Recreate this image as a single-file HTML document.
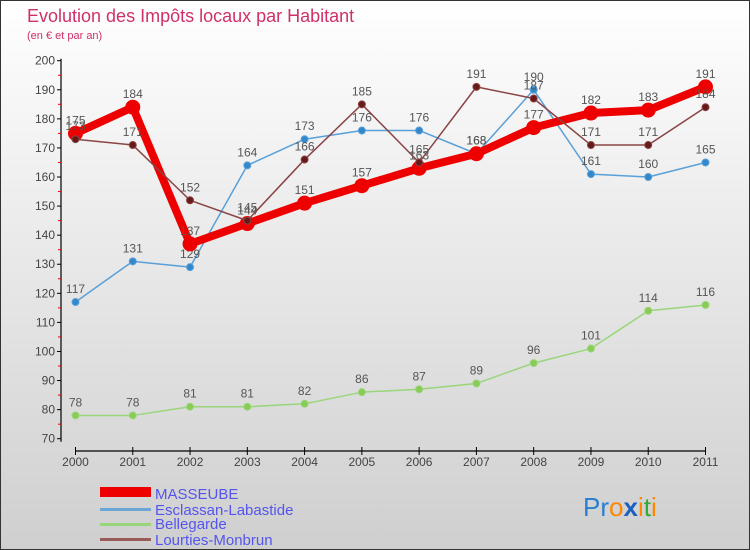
<!DOCTYPE html>
<html><head><meta charset="utf-8">
<style>
html,body{margin:0;padding:0;}
body{width:750px;height:550px;overflow:hidden;font-family:"Liberation Sans",sans-serif;}
</style></head>
<body>
<svg id="chart" width="750" height="550" xmlns="http://www.w3.org/2000/svg" style="display:block">
<defs>
<linearGradient id="bg" x1="0" y1="0" x2="0" y2="1">
<stop offset="0" stop-color="#ffffff"/><stop offset="1" stop-color="#cfcfcf"/>
</linearGradient>
</defs>
<rect x="0.5" y="0.5" width="749" height="549" fill="url(#bg)" stroke="#333" stroke-width="1"/>
<text x="27" y="22" font-size="18" fill="#d0306a">Evolution des Impôts locaux par Habitant</text>
<text x="27" y="39" font-size="11" fill="#d0306a">(en € et par an)</text>
<g id="axes"></g>
<g id="series"></g>
<g id="legend">
<rect x="100" y="487" width="51" height="10" fill="#ee0000"/>
<text x="155" y="499" font-size="15" fill="#5555ee">MASSEUBE</text>
<rect x="100" y="508" width="51" height="3" fill="#6aa6d6"/>
<text x="155" y="515" font-size="15" fill="#5555ee">Esclassan-Labastide</text>
<rect x="100" y="523" width="51" height="3" fill="#99d67a"/>
<text x="155" y="529" font-size="15" fill="#5555ee">Bellegarde</text>
<rect x="100" y="538" width="51" height="3" fill="#9b5a5a"/>
<text x="155" y="545" font-size="15" fill="#5555ee">Lourties-Monbrun</text>
</g>
<g font-size="26" font-family="Liberation Sans, sans-serif">
<text x="583" y="516"><tspan fill="#2a7fd0">Pr</tspan><tspan fill="#ff8800">o</tspan><tspan fill="#1a5fc0" font-weight="bold">x</tspan><tspan fill="#ff8800">i</tspan><tspan fill="#33aa33">t</tspan><tspan fill="#ff8800">i</tspan></text>
</g>
</svg>
<script>
const years = ['2000','2001','2002','2003','2004','2005','2006','2007','2008','2009','2010','2011'];
const masseube = [175,184,137,144,151,157,163,168,177,182,183,191];
const esclassan = [117,131,129,164,173,176,176,168,190,161,160,165];
const bellegarde = [78,78,81,81,82,86,87,89,96,101,114,116];
const lourties = [173,171,152,145,166,185,165,191,187,171,171,184];
const yTicks = [70,80,90,100,110,120,130,140,150,160,170,180,190,200];

const NS = 'http://www.w3.org/2000/svg';
const X0 = 75.5, X1 = 705.5, Ytop = 60.7, Ybot = 438.7, VMIN = 70, VMAX = 200;
function xs(i){ return X0 + (X1 - X0) * i / (years.length - 1); }
function ys(v){ return Ybot - (v - VMIN) / (VMAX - VMIN) * (Ybot - Ytop); }
function mk(tag, attrs, parent){ const e = document.createElementNS(NS, tag); for (const k in attrs) e.setAttribute(k, attrs[k]); parent.appendChild(e); return e; }

const axes = document.getElementById('axes');
const yAxis = mk('line', {x1:61, y1:Ytop-2, x2:61, y2:Ybot+3, stroke:'#000', 'stroke-width':1.2}, axes);


yTicks.forEach((t, i) => {
  const y = ys(t);
  const tk = mk('line', {x1:57, y1:y, x2:61, y2:y, stroke:'#000'}, axes);
  
  
  const lb = mk('text', {x:55, y:y+4, 'text-anchor':'end', 'font-size':12, fill:'#444'}, axes);
  lb.textContent = t;
  
  
  if (i < yTicks.length - 1) {
    const my = ys(t + 5);
    const mt = mk('line', {x1:58, y1:my, x2:61, y2:my, stroke:'#e00'}, axes);
    
    
  }
});
const xAxis = mk('line', {x1:X0, y1:451, x2:X1, y2:451, stroke:'#000', 'stroke-width':1.2}, axes);


years.forEach((yr, i) => {
  const x = xs(i);
  const tk = mk('line', {x1:x, y1:447, x2:x, y2:455, stroke:'#000'}, axes);
  
  
  const lb = mk('text', {x:x, y:466, 'text-anchor':'middle', 'font-size':12, fill:'#444'}, axes);
  lb.textContent = yr;
  
  
});

const seriesG = document.getElementById('series');
function drawSeries(vals, name, color, width, r, ptColor){
  const g = mk('g', {}, seriesG);
  
  
  const pts = vals.map((v, i) => xs(i) + ',' + ys(v)).join(' ');
  const pl = mk('polyline', {points:pts, fill:'none', stroke:color, 'stroke-width':width, 'stroke-linejoin':'round'}, g);
  
  
  vals.forEach((v, i) => {
    const c = mk('circle', {cx:xs(i), cy:ys(v), r:r, fill:ptColor, stroke:color, 'stroke-width':1}, g);
    
    
    const t = mk('text', {x:xs(i), y:ys(v) - 9, 'text-anchor':'middle', 'font-size':12, fill:'#555'}, g);
    t.textContent = v;
    
    
  });
}
drawSeries(bellegarde, 'bellegarde', '#99d67a', 1.5, 3.5, '#88cc55');
drawSeries(esclassan, 'esclassan', '#5aa0d8', 1.5, 3.5, '#3388cc');
drawSeries(masseube, 'masseube', '#ee0000', 8, 7, '#ee0000');
drawSeries(lourties, 'lourties', '#8a4444', 1.5, 3.5, '#661a1a');
</script>
</body></html>
